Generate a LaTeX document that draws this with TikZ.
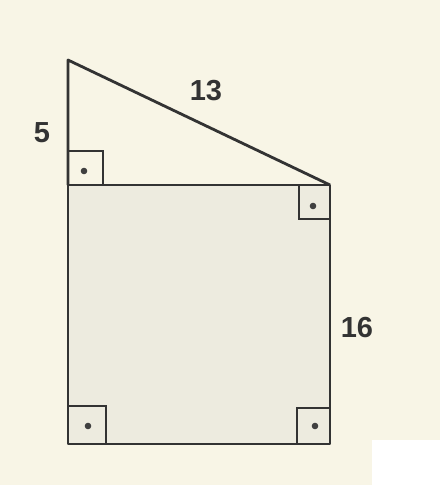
\documentclass[tikz,border=0pt]{standalone}
\usepackage{fontspec}
\setmainfont{Liberation Sans}
\begin{document}
\begin{tikzpicture}[x=1pt,y=-1pt,
  edge/.style={draw=black!80, line width=2.8pt, line join=round},
  rmark/.style={draw=black!80, line width=2.6pt},
  pt/.style={fill=black!75},
  lbl/.style={font=\fontsize{29}{32}\selectfont\bfseries, text=black!80}]
\definecolor{paper}{HTML}{F8F5E6}
\definecolor{sq}{HTML}{EDEBDF}
\fill[paper] (0,0) rectangle (440,485);
\useasboundingbox (0,0) rectangle (440,485);
\fill[white] (372,440) rectangle (440,485);
\coordinate (A) at (68,60);
\coordinate (B) at (68,185);
\coordinate (C) at (330,185);
\coordinate (D) at (330,444);
\coordinate (E) at (68,444);
\fill[sq] (B) rectangle (D);
\draw[edge] (B) -- (A) -- (C);
\draw[edge] (B) -- (C) -- (D) -- (E) -- cycle;
% right angle markers
\draw[rmark] (68,151) -- (103,151) -- (103,185);
\fill[pt] (84,171) circle (3.3);
\draw[rmark] (299,185) -- (299,219) -- (330,219);
\fill[pt] (313,206) circle (3.3);
\draw[rmark] (68,406) -- (106,406) -- (106,444);
\fill[pt] (88,426) circle (3.3);
\draw[rmark] (330,408) -- (297,408) -- (297,444);
\fill[pt] (315,426) circle (3.3);
\node[lbl] (l5) at (42,133) {5};
\node[lbl] (l13) at (206,91) {13};
\node[lbl] (l16) at (357,328) {16};
\end{tikzpicture}
\end{document}
